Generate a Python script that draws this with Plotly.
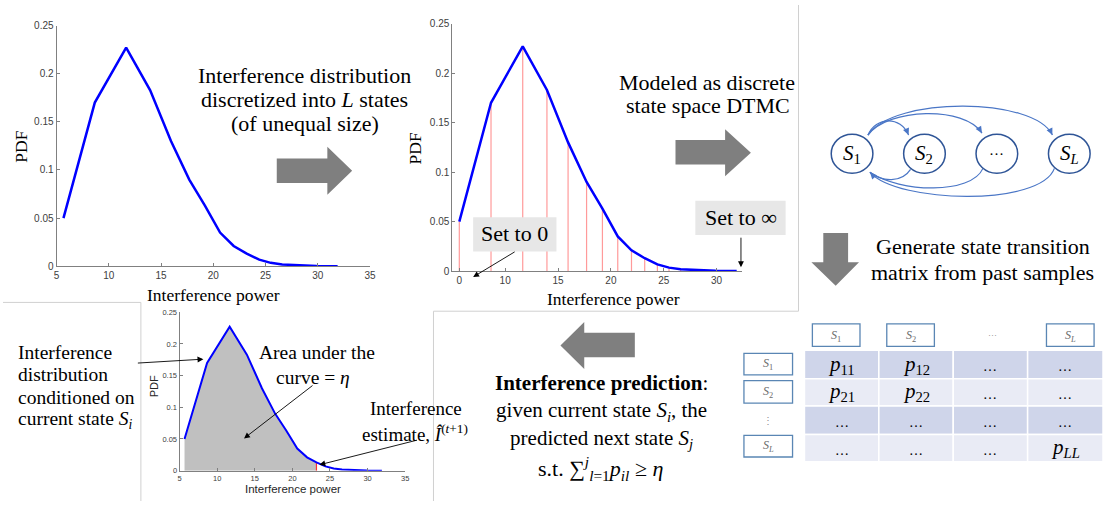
import plotly.graph_objects as go

W, H = 1110, 507
SERIF = "'Liberation Serif', 'Times New Roman', Times, 'DejaVu Serif', serif"
SANS = "'Liberation Sans', Arial, sans-serif"

# ---------------- data ----------------
power = [5.66, 8.66, 11.66, 13.95, 15.95, 17.7, 19.2, 20.65, 21.95, 23.2, 24.4, 25.5, 26.6, 28.2, 29.9, 31.9]
pdf = [0.050, 0.170, 0.227, 0.183, 0.130, 0.090, 0.063, 0.035, 0.021, 0.013, 0.0068, 0.0035, 0.0018, 0.0008, 0.0003, 0.0]
n_state_edges = 13          # red state boundaries in the discretized plot
estimate_idx = 9            # interference estimate boundary in the prediction plot
y_ticks = [0, 0.05, 0.1, 0.15, 0.2, 0.25]
x_ticks_full = [5, 10, 15, 20, 25, 30, 35]
x_ticks_mid = [power[0], 10, 15, 20, 25, 30]
x_ticktext_mid = ["0", "10", "15", "20", "25", "30"]

state_labels = ["<i>S</i><sub>1</sub>", "<i>S</i><sub>2</sub>", "…", "<i>S<sub>L</sub></i>"]
row_labels = ["<i>S</i><sub>1</sub>", "<i>S</i><sub>2</sub>", "⋮", "<i>S<sub>L</sub></i>"]
matrix_cells = [
    ["<i>p</i><sub>11</sub>", "<i>p</i><sub>12</sub>", "…", "…"],
    ["<i>p</i><sub>21</sub>", "<i>p</i><sub>22</sub>", "…", "…"],
    ["…", "…", "…", "…"],
    ["…", "…", "…", "<i>p<sub>LL</sub></i>"],
]


def X(px):
    return px / W


def Y(py):
    return 1 - py / H


fig = go.Figure()

BLUE = "#0000ff"
# ---- plot 1 (top-left) ----
fig.add_trace(go.Scatter(x=power, y=pdf, mode="lines", line=dict(color=BLUE, width=2.5),
                         xaxis="x", yaxis="y", showlegend=False, hoverinfo="skip"))

# ---- plot 2 (top-middle) ----
red_x, red_y = [], []
for i in range(n_state_edges):
    red_x += [power[i], power[i], None]
    red_y += [0, pdf[i], None]
fig.add_trace(go.Scatter(x=red_x, y=red_y, mode="lines", line=dict(color="#ff9a9a", width=1.2),
                         xaxis="x2", yaxis="y2", showlegend=False, hoverinfo="skip"))
fig.add_trace(go.Scatter(x=power, y=pdf, mode="lines", line=dict(color=BLUE, width=2.5),
                         xaxis="x2", yaxis="y2", showlegend=False, hoverinfo="skip"))

# ---- plot 3 (bottom-left) ----
fig.add_trace(go.Scatter(x=power[:estimate_idx + 1], y=pdf[:estimate_idx + 1], mode="lines",
                         line=dict(width=0, color="#c0c0c0"), fill="tozeroy", fillcolor="#c0c0c0",
                         xaxis="x3", yaxis="y3", showlegend=False, hoverinfo="skip"))
fig.add_trace(go.Scatter(x=[power[estimate_idx], power[estimate_idx]], y=[0, pdf[estimate_idx]], mode="lines",
                         line=dict(color="#ff3030", width=1.2),
                         xaxis="x3", yaxis="y3", showlegend=False, hoverinfo="skip"))
fig.add_trace(go.Scatter(x=power, y=pdf, mode="lines", line=dict(color=BLUE, width=2),
                         xaxis="x3", yaxis="y3", showlegend=False, hoverinfo="skip"))


def xax(domain, rng, tickvals, ticktext=None, fs=10, anchor="y"):
    return dict(domain=domain, range=rng, tickvals=tickvals, ticktext=ticktext, ticks="inside", ticklen=3,
                tickcolor="#808080", showline=True, linecolor="#808080", linewidth=1, showgrid=False,
                zeroline=False, tickfont=dict(family=SANS, size=fs, color="#404040"), anchor=anchor,
                fixedrange=True)


def yax(domain, fs=10, anchor="x"):
    return dict(domain=domain, range=[0, 0.25], tickvals=y_ticks, ticks="inside", ticklen=3,
                tickcolor="#808080", showline=True, linecolor="#808080", linewidth=1, showgrid=False,
                zeroline=False, tickfont=dict(family=SANS, size=fs, color="#404040"), anchor=anchor,
                fixedrange=True)


fig.update_layout(
    xaxis=xax([X(54), X(370)], [5, 35], x_ticks_full, anchor="y"),
    yaxis=yax([Y(267), Y(21)], anchor="x"),
    xaxis2=xax([X(453), X(745)], [5, 32.4], x_ticks_mid, x_ticktext_mid, anchor="y2"),
    yaxis2=yax([Y(272), Y(19)], anchor="x2"),
    xaxis3=xax([X(178), X(405.5)], [5, 35], x_ticks_full, fs=7.5, anchor="y3"),
    yaxis3=yax([Y(476), Y(314)], fs=7.5, anchor="x3"),
)

shapes = []
annots = []


def text(x, y, t, size=22, family=SERIF, color="black", xanchor="center", angle=0):
    annots.append(dict(x=X(x), y=Y(y), xref="paper", yref="paper", text=t, showarrow=False,
                       xanchor=xanchor, yanchor="middle", textangle=angle, borderpad=0,
                       font=dict(family=family, size=size, color=color)))


def arrow(tail, head):
    annots.append(dict(x=X(head[0]), y=Y(head[1]), xref="paper", yref="paper", text="",
                       showarrow=True, axref="pixel", ayref="pixel",
                       ax=tail[0] - head[0], ay=tail[1] - head[1],
                       arrowhead=2, arrowsize=1.3, arrowwidth=0.9, arrowcolor="black", standoff=0))


def poly(pts, fill, line_color=None, width=0):
    p = "M " + " L ".join(f"{X(a):.5f},{Y(b):.5f}" for a, b in pts) + " Z"
    shapes.append(dict(type="path", path=p, xref="paper", yref="paper", fillcolor=fill,
                       line=dict(color=line_color or fill, width=width), layer="above"))


def rect(x0, y0, x1, y1, fill, line_color, width=1):
    shapes.append(dict(type="rect", xref="paper", yref="paper", x0=X(x0), x1=X(x1), y0=Y(y1), y1=Y(y0),
                       fillcolor=fill, line=dict(color=line_color, width=width), layer="above"))


def line(pts, color, width=1):
    p = "M " + " L ".join(f"{X(a):.5f},{Y(b):.5f}" for a, b in pts)
    shapes.append(dict(type="path", path=p, xref="paper", yref="paper",
                       line=dict(color=color, width=width), layer="above"))


def curve(p0, c1, c2, p1, color, width=1.2, head=True):
    p = (f"M {X(p0[0]):.5f},{Y(p0[1]):.5f} C {X(c1[0]):.5f},{Y(c1[1]):.5f} "
         f"{X(c2[0]):.5f},{Y(c2[1]):.5f} {X(p1[0]):.5f},{Y(p1[1]):.5f}")
    shapes.append(dict(type="path", path=p, xref="paper", yref="paper",
                       line=dict(color=color, width=width), layer="above"))
    if head:
        dx, dy = p1[0] - c2[0], p1[1] - c2[1]
        n = (dx * dx + dy * dy) ** 0.5
        dx, dy = dx / n, dy / n
        s, w = 7, 3.2
        bx, by = p1[0] - dx * s, p1[1] - dy * s
        poly([p1, (bx - dy * w, by + dx * w), (bx + dy * w, by - dx * w)], color)


# ---- panel borders ----
line([(434, 507), (434, 313), (802, 313), (802, 0)], "#d0d0d0", 1)
line([(0, 304), (139, 304), (139, 507)], "#d0d0d0", 1)

# ---- axis titles ----
text(212, 296, "Interference power", size=17.5)
text(18, 145, "PDF", size=17.5, angle=-90)
text(615, 301, "Interference power", size=17.5)
text(415, 147, "PDF", size=17.5, angle=-90)
text(292, 495, "Interference power", size=11.5, family=SANS, color="#262626")
text(152, 390, "PDF", size=11, family=SANS, color="#262626", angle=-90)

# ---- big gray arrows ----
G = "#7f7f7f"
poly([(276, 157), (327, 157), (327, 145), (352, 169.5), (327, 194), (327, 182), (276, 182)], G)
poly([(678, 138), (728, 138), (728, 127), (754, 151), (728, 175), (728, 163), (678, 163)], G)
poly([(827, 233), (852, 233), (852, 263), (863, 263), (839.5, 287), (815, 263), (827, 263)], G)
poly([(637, 335), (586, 335), (586, 324), (562, 348), (586, 372), (586, 360), (637, 360)], G)

# ---- top texts ----
text(304, 72, "Interference distribution")
text(304, 97, "discretized into <i>L</i> states")
text(304, 121, "(of unequal size)")
text(710, 79, "Modeled as discrete")
text(711, 103, "state space DTMC")

# set-to boxes
rect(474, 217, 558, 252, "#e7e7e7", "#e7e7e7", 0)
text(516, 234, "Set to 0")
arrow((517, 252), (474, 278))
rect(698, 200, 789, 235, "#e7e7e7", "#e7e7e7", 0)
text(744, 217, "Set to ∞")
arrow((744, 237), (744, 268))

# ---- DTMC graph ----
AC = "#4a76c6"
curve((872, 133), (880, 114), (905, 113), (913, 133), AC)
curve((872, 133), (892, 105), (970, 103), (987, 131), AC)
curve((872, 133), (898, 93), (1040, 94), (1058, 133), AC)
curve((915, 168), (906, 182), (886, 181), (874, 171), AC, head=False)
curve((988, 167), (976, 194), (905, 192), (874, 171), AC, head=False)
curve((1060, 167), (1046, 206), (903, 203), (874, 171), AC)
node_x = [856, 929, 1002, 1075]
for cx, lab in zip(node_x, state_labels):
    shapes.append(dict(type="circle", xref="paper", yref="paper", x0=X(cx - 21), x1=X(cx + 21),
                       y0=Y(172), y1=Y(132), fillcolor="white", line=dict(color="#2f5597", width=1.5),
                       layer="above"))
    text(cx, 152, lab if lab != "…" else "···", size=21 if lab != "…" else 15)

text(988, 247, "Generate state transition")
text(988, 273, "matrix from past samples")

# ---- transition matrix ----
BOXC = "#5a86b4"
col_box_x = [(816, 864), (891, 939), None, (1052, 1100)]
for bx, lab in zip(col_box_x, state_labels):
    if bx is None:
        text(998, 337, "···", size=9, color="#808080")
    else:
        rect(bx[0], 326, bx[1], 349, "white", BOXC, 1.3)
        text((bx[0] + bx[1]) / 2, 338, lab, size=12, color="#6b6b6b")
row_box_y = [(356, 378), (384, 407), None, (440, 462)]
for by, lab in zip(row_box_y, row_labels):
    if by is None:
        text(771, 425, "⋮", size=10, color="#909090")
    else:
        rect(747, by[0], 796, by[1], "white", BOXC, 1.3)
        text(771.5, (by[0] + by[1]) / 2, lab, size=12, color="#6b6b6b")

col_edges = [808, 883, 958, 1033, 1109]
row_edges = [353, 382, 410, 439, 467]
for r in range(4):
    for c in range(4):
        rect(col_edges[c], row_edges[r], col_edges[c + 1], row_edges[r + 1],
             "#cfd5ea" if r % 2 == 0 else "#e9ebf5", "white", 1.5)
        cell = matrix_cells[r][c]
        cx = (col_edges[c] + col_edges[c + 1]) / 2
        cy = (row_edges[r] + row_edges[r + 1]) / 2
        if cell == "…":
            text(cx, cy + 2, "…", size=14)
        else:
            text(cx, cy, cell, size=21)

# ---- bottom-middle text (one block so lines do not collide) ----
text(603, 416, "<b>Interference prediction</b>:<br>given current state <i>S<sub>i</sub></i>, the"
               "<br>predicted next state <i>S<sub>j</sub></i>", size=21)
text(602, 474, "s.t. ∑<sup><i>j</i></sup><sub><i>l</i>=1</sub><i>p<sub>il</sub></i> ≥ <i>η</i>")

# ---- bottom-left text ----
for yy, t in zip([355, 378, 401, 424],
                 ["Interference", "distribution", "conditioned on", "current state <i>S<sub>i</sub></i>"]):
    text(14, yy, t, size=19.5, xanchor="left")
arrow((135, 366), (202, 362))
text(317, 355, "Area under the", size=19.5)
text(313, 381, "curve = <i>η</i>", size=19.5)
arrow((313, 389), (243, 443))
text(416, 412, "Interference", size=19)
text(415, 437, "estimate, <i>Î</i><sup>(<i>t</i>+1)</sup>", size=19)
arrow((418, 445), (319, 470))

fig.update_layout(
    width=W, height=H, autosize=False,
    margin=dict(l=0, r=0, t=0, b=0, pad=0),
    paper_bgcolor="white", plot_bgcolor="rgba(0,0,0,0)",
    shapes=shapes, annotations=annots, showlegend=False,
)

fig.write_html("out.html", config={"responsive": False, "displayModeBar": False},
               post_script="document.body.style.margin='0';document.body.style.overflow='hidden';")
